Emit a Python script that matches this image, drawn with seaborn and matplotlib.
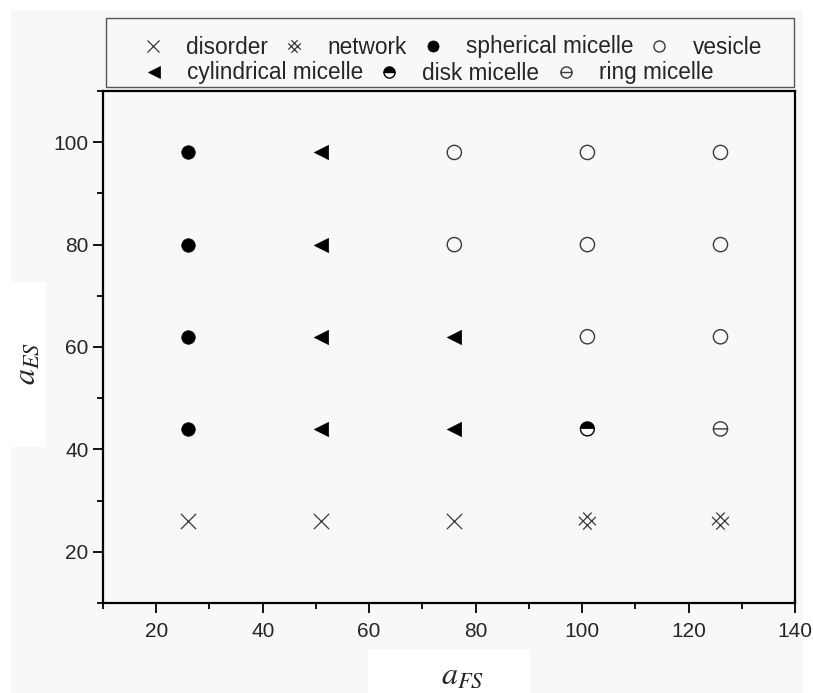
import pandas as pd
import matplotlib.pyplot as plt
import seaborn as sns
from matplotlib.path import Path
from matplotlib.lines import Line2D
from matplotlib.markers import MarkerStyle
from matplotlib.patches import Rectangle

# -------------------------------
# data: phase diagram grid
# -------------------------------
a_fs = [26, 51, 76, 101, 126]
a_es = [26, 44, 62, 80, 98]
# one list per a_ES row (bottom to top), one entry per a_FS column
phase_rows = [
    ["disorder", "disorder", "disorder", "network", "network"],
    ["spherical micelle", "cylindrical micelle", "cylindrical micelle", "disk micelle", "ring micelle"],
    ["spherical micelle", "cylindrical micelle", "cylindrical micelle", "vesicle", "vesicle"],
    ["spherical micelle", "cylindrical micelle", "vesicle", "vesicle", "vesicle"],
    ["spherical micelle", "cylindrical micelle", "vesicle", "vesicle", "vesicle"],
]
legend_row1 = ["disorder", "network", "spherical micelle", "vesicle"]
legend_row2 = ["cylindrical micelle", "disk micelle", "ring micelle"]

rows = []
for j, y in enumerate(a_es):
    for i, x in enumerate(a_fs):
        rows.append({"a_FS": x, "a_ES": y, "phase": phase_rows[j][i]})
df = pd.DataFrame(rows)

# -------------------------------
# custom markers
# -------------------------------
# network = two overlapping crosses (a rotated "#")
d = 0.5
net_verts = [(-1, -1 + d), (1 - d, 1), (-1 + d, -1), (1, 1 - d),
             (-1 + d, 1), (1, -1 + d), (-1, 1 - d), (1 - d, -1)]
net_codes = [Path.MOVETO, Path.LINETO] * 4
network_marker = Path(net_verts, net_codes)

# ring = circle with a horizontal bar
ring_marker = Path.make_compound_path(
    Path.unit_circle(),
    Path([(-1, 0), (1, 0)], [Path.MOVETO, Path.LINETO]))

disk_top = MarkerStyle("o", fillstyle="top")

grey = "#3a3a3a"
styles = {
    "disorder": dict(marker="x", s=120, color=grey, linewidth=0.9),
    "network": dict(marker=network_marker, s=150, facecolor="none", edgecolor=grey, linewidth=0.9),
    "spherical micelle": dict(marker="o", s=95, color="black", edgecolor="black", linewidth=0.5),
    "vesicle": dict(marker="o", s=105, facecolor="none", edgecolor=grey, linewidth=1.0),
    "cylindrical micelle": dict(marker="<", s=105, color="black", edgecolor="black", linewidth=0.5),
    "ring micelle": dict(marker=ring_marker, s=105, facecolor="none", edgecolor=grey, linewidth=1.0),
}

# -------------------------------
# figure
# -------------------------------
sns.set_style("ticks")
plt.rcParams["font.family"] = ["Liberation Sans", "DejaVu Sans"]
plt.rcParams["mathtext.fontset"] = "stix"

fig = plt.figure(figsize=(8.13, 6.93), dpi=100)
fig.patch.set_facecolor("white")
fig.patches.append(Rectangle((11 / 813, 0), 792 / 813, 683 / 693, transform=fig.transFigure,
                             facecolor="#f8f8f8", edgecolor="none", zorder=-10))
ax = fig.add_axes([103 / 813, 90 / 693, 692 / 813, 512 / 693])
ax.set_facecolor("none")

for phase, kw in styles.items():
    sub = df[df["phase"] == phase]
    sns.scatterplot(data=sub, x="a_FS", y="a_ES", ax=ax, legend=False, zorder=3, **kw)

# disk micelle: top half filled + open outline
sub = df[df["phase"] == "disk micelle"]
sns.scatterplot(data=sub, x="a_FS", y="a_ES", ax=ax, legend=False, marker=disk_top, s=100,
                color="black", edgecolor="none", linewidth=0, zorder=3)
sns.scatterplot(data=sub, x="a_FS", y="a_ES", ax=ax, legend=False, marker="o", s=100,
                facecolor="none", edgecolor="black", linewidth=1.0, zorder=4)

ax.set_xlim(10, 140)
ax.set_ylim(10, 110)
ax.set_xticks(range(20, 141, 20))
ax.set_xticks(range(10, 140, 20), minor=True)
ax.set_yticks(range(20, 101, 20))
ax.set_yticks(range(10, 111, 20), minor=True)
ax.tick_params(which="major", length=7.5, width=1.3, labelsize=15, color="black")
ax.tick_params(which="minor", length=4, width=1.3, color="black")
ax.tick_params(axis="x", which="major", pad=6)
ax.tick_params(axis="y", which="major", pad=3)
for sp in ax.spines.values():
    sp.set_linewidth(1.6)
    sp.set_color("black")
ax.set_xlabel("")
ax.set_ylabel("")

# axis labels on white patches
fig.patches.append(Rectangle((368 / 813, 0), 162 / 813, 44 / 693, transform=fig.transFigure,
                             facecolor="white", edgecolor="none", zorder=-5))
fig.patches.append(Rectangle((11 / 813, 246 / 693), 35 / 813, 165 / 693, transform=fig.transFigure,
                             facecolor="white", edgecolor="none", zorder=-5))
fig.text(463 / 813, 1 - 676 / 693, r"$a_{FS}$", fontsize=23, ha="center", va="center")
fig.text(27 / 813, 1 - 363 / 693, r"$a_{ES}$", fontsize=23, ha="center", va="center", rotation=90)

# -------------------------------
# legend: two rows inside one box
# -------------------------------
def handle(phase):
    if phase == "disk micelle":
        return Line2D([], [], linestyle="none", marker="o", markersize=8, fillstyle="top",
                      markerfacecolor="black", markerfacecoloralt="white",
                      markeredgecolor="black", markeredgewidth=1.0)
    kw = styles[phase]
    face = kw.get("facecolor", kw.get("color"))
    edge = kw.get("edgecolor", kw.get("color"))
    size = 9 if phase in ("disorder", "network") else 8
    return Line2D([], [], linestyle="none", marker=kw["marker"], markersize=size,
                  markerfacecolor=face, markeredgecolor=edge, markeredgewidth=kw["linewidth"])

fig.patches.append(Rectangle((106 / 813, 1 - 87 / 693), 688 / 813, 69 / 693, transform=fig.transFigure,
                             facecolor="none", edgecolor="#555555", linewidth=1.0, zorder=5))
leg_kw = dict(frameon=False, fontsize=16.3, handlelength=1.0, handletextpad=0.96,
              columnspacing=0.66, borderpad=0, borderaxespad=0, loc="center left",
              bbox_transform=fig.transFigure)
leg1 = fig.legend([handle(p) for p in legend_row1], legend_row1, ncol=4,
                  bbox_to_anchor=(141.5 / 813, 1 - 47 / 693), **leg_kw)
leg2 = fig.legend([handle(p) for p in legend_row2], legend_row2, ncol=3,
                  bbox_to_anchor=(142.5 / 813, 1 - 73 / 693), **leg_kw)

plt.savefig("out.png", dpi=100)
